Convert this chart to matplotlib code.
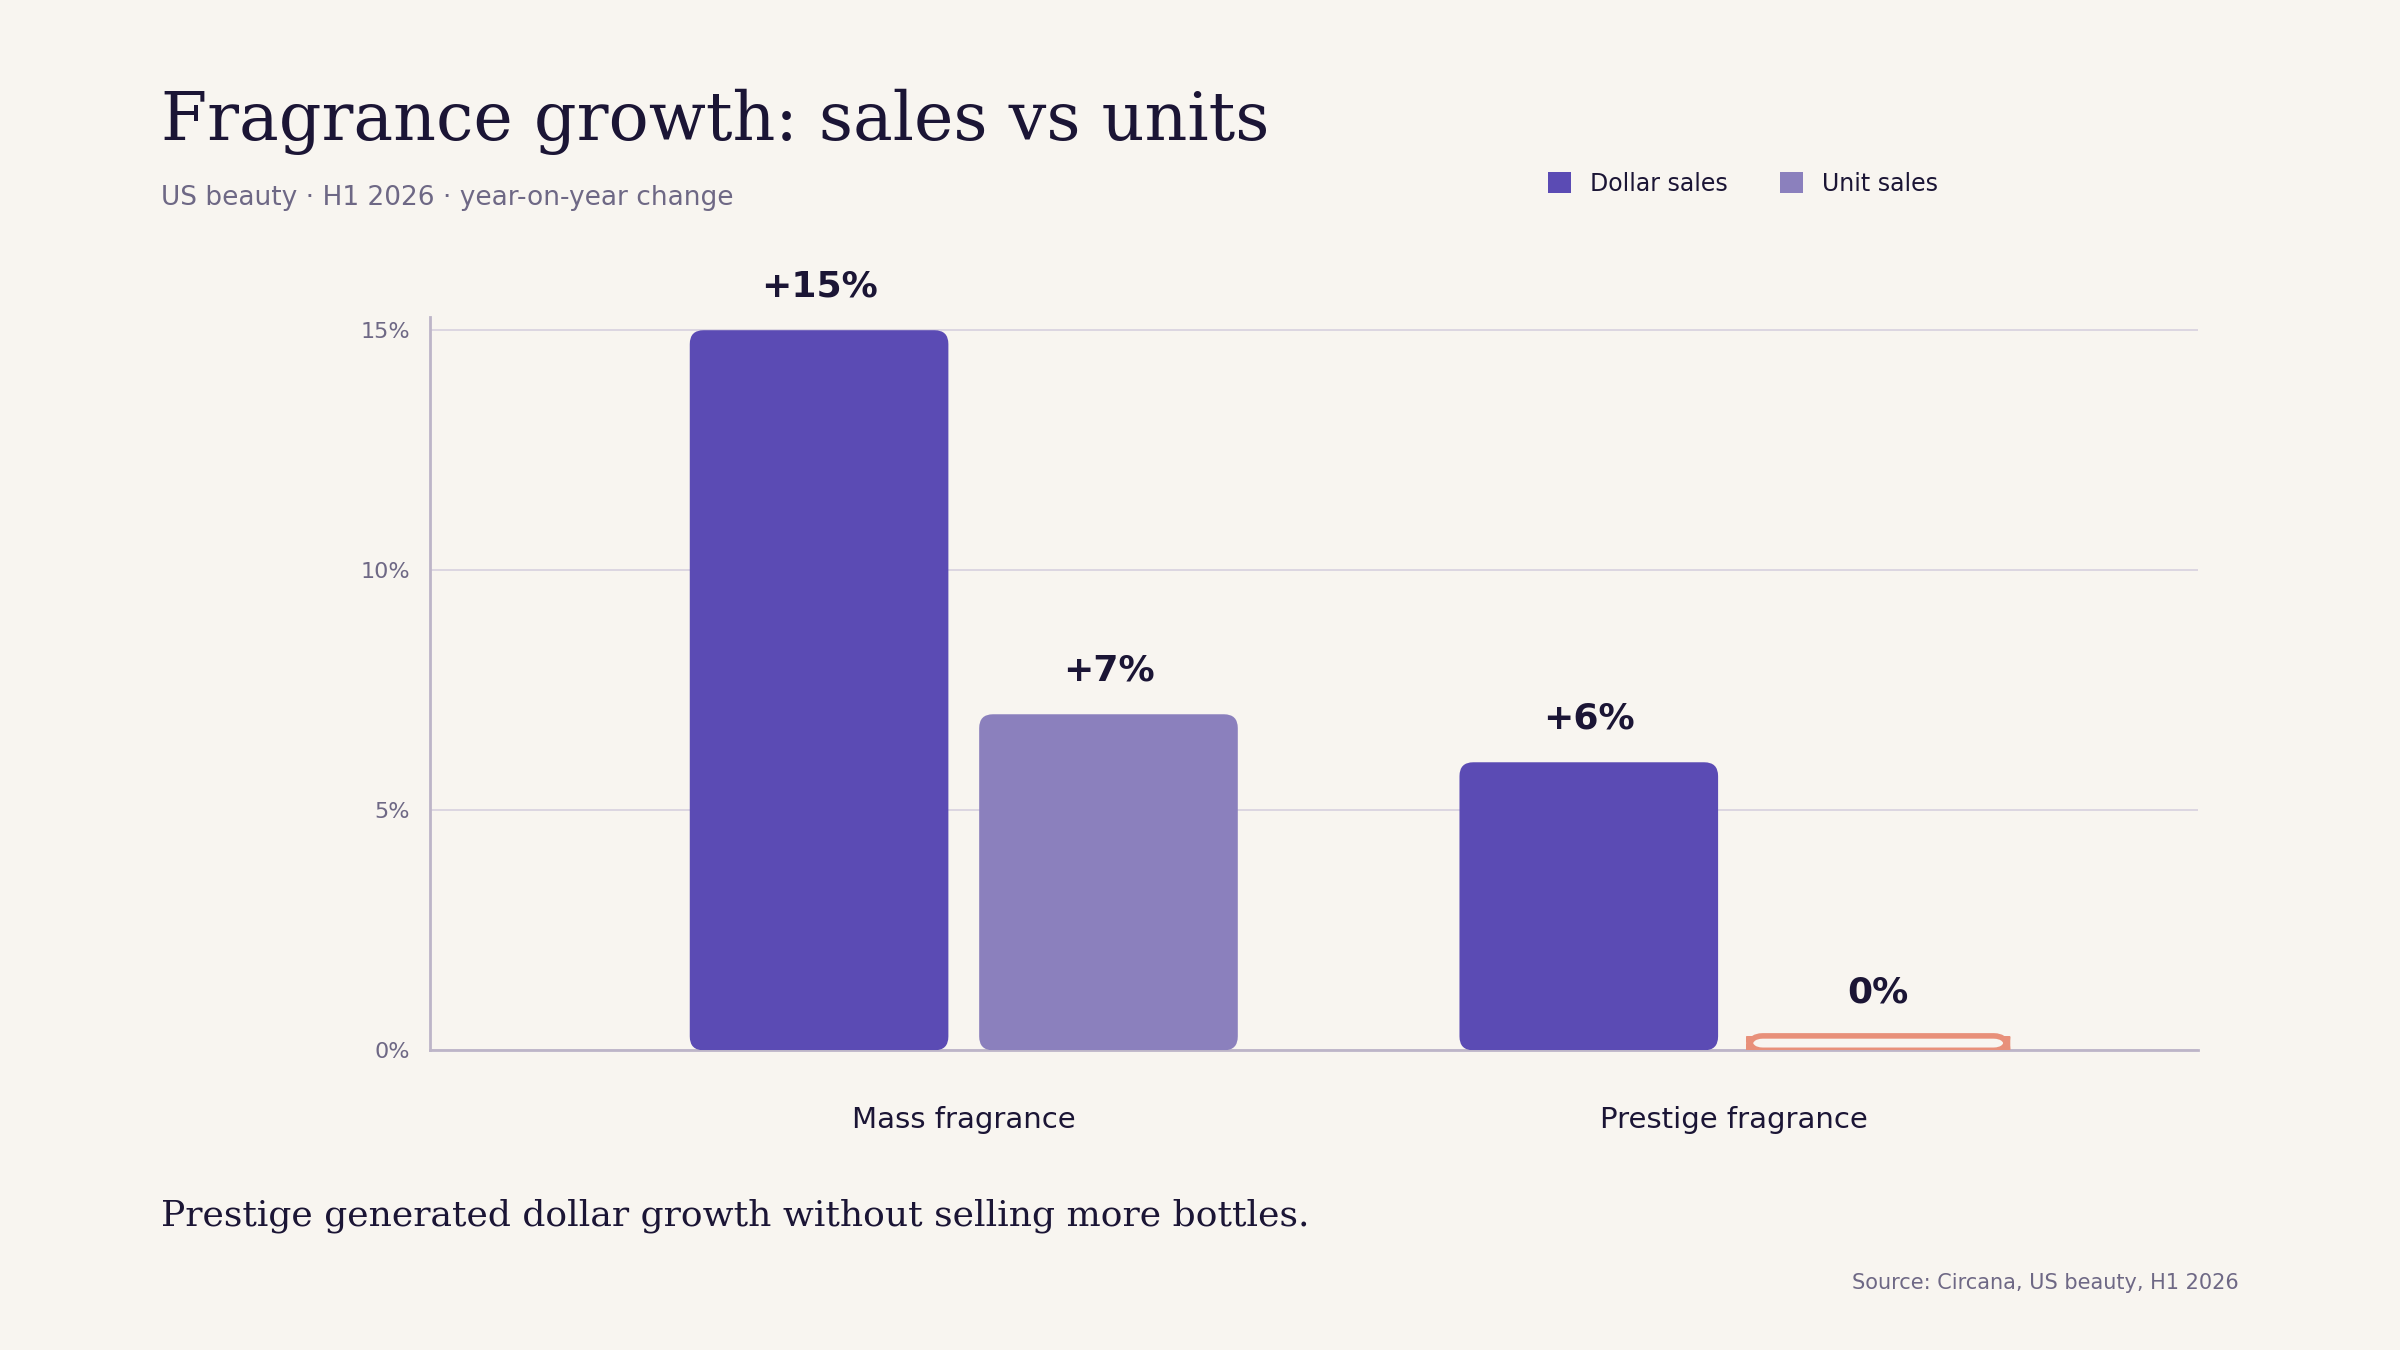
import matplotlib
matplotlib.use("Agg")
import matplotlib.pyplot as plt
from matplotlib.patches import FancyBboxPatch, Patch

categories = ["Mass fragrance", "Prestige fragrance"]
dollar_sales = [15, 6]
unit_sales = [7, 0]
yticks = [0, 5, 10, 15]
ytick_labels = ["0%", "5%", "10%", "15%"]

BG = "#F8F5F0"; DARK = "#5B4BB4"; LIGHT = "#8B80BD"; CORAL = "#E8907A"
TXT = "#1B1535"; GRAY = "#6E6885"; GRID = "#DAD3E0"; SPINE = "#BDB5C8"

fig = plt.figure(figsize=(24, 13.5), dpi=100, facecolor=BG)
ax = fig.add_axes([0.179, 0.222, 0.737, 0.543], facecolor=BG)
ax.set_xlim(-0.694, 1.604)
ax.set_ylim(0, 15.27)

w = 0.336; off = 0.188
x = list(range(len(categories)))
aspect = (ax.get_ylim()[1] / (0.543 * 1350)) / ((ax.get_xlim()[1] - ax.get_xlim()[0]) / (0.737 * 2400))

def rbar(xc, h, fc, ec="none", lw=0):
    hh = h if h > 0 else 0.3
    p = FancyBboxPatch((xc - w / 2, 0), w, hh, boxstyle="round,pad=0,rounding_size=0.018",
                       mutation_aspect=aspect, fc=fc if h > 0 else "none",
                       ec=ec if h == 0 else "none", lw=4 if h == 0 else 0, zorder=3)
    ax.add_patch(p)
    ax.text(xc, hh + 0.55, f"+{h}%" if h > 0 else "0%", ha="center", va="bottom",
            fontsize=26, fontweight="bold", color=TXT)

for i in x:
    rbar(i - off, dollar_sales[i], DARK)
    rbar(i + off, unit_sales[i], LIGHT, ec=CORAL)

ax.set_yticks(yticks)
ax.set_yticklabels(ytick_labels, fontsize=16, color=GRAY)
ax.set_xticks(x)
ax.set_xticklabels(categories, fontsize=21, color=TXT)
ax.tick_params(axis="both", length=0, pad=14)
ax.tick_params(axis="x", pad=40)
ax.grid(axis="y", color=GRID, lw=1.3, zorder=0)
for s in ["top", "right"]:
    ax.spines[s].set_visible(False)
for s in ["left", "bottom"]:
    ax.spines[s].set_color(SPINE); ax.spines[s].set_linewidth(2)

fig.text(0.067, 0.885, "Fragrance growth: sales vs units", family="DejaVu Serif",
         fontsize=48, color=TXT, va="bottom")
fig.text(0.067, 0.848, "US beauty · H1 2026 · year-on-year change", fontsize=19, color=GRAY)
fig.legend(handles=[Patch(fc=DARK, label="Dollar sales"), Patch(fc=LIGHT, label="Unit sales")],
           loc="center left", bbox_to_anchor=(0.636, 0.864), ncol=2, frameon=False,
           fontsize=17, labelcolor=TXT, handlelength=1.0, handleheight=1.0, columnspacing=2.2)
fig.text(0.067, 0.092, "Prestige generated dollar growth without selling more bottles.",
         family="DejaVu Serif", fontsize=26, color=TXT)
fig.text(0.933, 0.045, "Source: Circana, US beauty, H1 2026", fontsize=15, color=GRAY, ha="right")

fig.savefig("out.png", facecolor=BG)
